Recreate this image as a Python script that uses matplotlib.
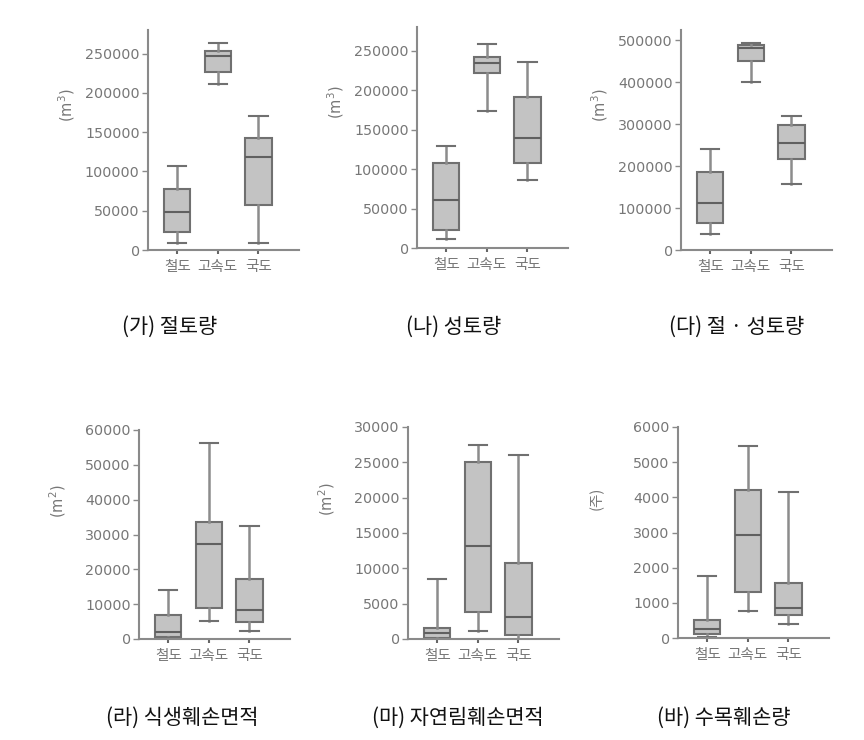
import matplotlib
matplotlib.use("Agg")
import matplotlib.pyplot as plt

plt.rcParams['font.family'] = ['Noto Sans CJK KR', 'DejaVu Sans']

CATS = ["철도", "고속도", "국도"]

# (가) 절토량
cut_min = [8500, 211000, 8500]
cut_q1 = [23000, 226000, 57000]
cut_med = [48000, 247000, 118000]
cut_q3 = [78000, 253000, 142000]
cut_max = [107000, 263000, 170000]

# (나) 성토량
fill_min = [11000, 174000, 86000]
fill_q1 = [23000, 222000, 108000]
fill_med = [61000, 234000, 139000]
fill_q3 = [108000, 242000, 191000]
fill_max = [129000, 259000, 236000]

# (다) 절·성토량
cf_min = [37000, 402000, 158000]
cf_q1 = [65000, 450000, 217000]
cf_med = [113000, 482000, 255000]
cf_q3 = [185000, 490000, 298000]
cf_max = [241000, 494000, 320000]

# (라) 식생훼손면적
veg_min = [200, 5100, 2400]
veg_q1 = [600, 8900, 5000]
veg_med = [1900, 27200, 8200]
veg_q3 = [6800, 33700, 17200]
veg_max = [14100, 56400, 32300]

# (마) 자연림훼손면적
for_min = [0, 1200, 0]
for_q1 = [150, 3800, 500]
for_med = [900, 13100, 3100]
for_q3 = [1500, 25000, 10800]
for_max = [8500, 27400, 26100]

# (바) 수목훼손량
tree_min = [30, 770, 410]
tree_q1 = [105, 1310, 650]
tree_med = [270, 2930, 840]
tree_q3 = [520, 4210, 1570]
tree_max = [1770, 5470, 4160]

W, H = 864, 740
fig = plt.figure(figsize=(W / 100, H / 100), dpi=100)

# panel: (left spine px, bottom px, top px, ylim top, ticks, unit, caption, caption x, caption y, data)
panels = [
    (148, 250, 30, 280000, range(0, 250001, 50000), "(m$^3$)", "(가) 절토량", 170, 327,
     (cut_min, cut_q1, cut_med, cut_q3, cut_max)),
    (417, 248, 27, 280000, range(0, 250001, 50000), "(m$^3$)", "(나) 성토량", 454, 327,
     (fill_min, fill_q1, fill_med, fill_q3, fill_max)),
    (681, 250, 30, 525000, range(0, 500001, 100000), "(m$^3$)", "(다) 절 · 성토량", 737, 327,
     (cf_min, cf_q1, cf_med, cf_q3, cf_max)),
    (139, 639, 430, 60000, range(0, 60001, 10000), "(m$^2$)", "(라) 식생훼손면적", 182, 718,
     (veg_min, veg_q1, veg_med, veg_q3, veg_max)),
    (408, 639, 427, 30000, range(0, 30001, 5000), "(m$^2$)", "(마) 자연림훼손면적", 458, 718,
     (for_min, for_q1, for_med, for_q3, for_max)),
    (678, 638, 427, 6000, range(0, 6001, 1000), "(주)", "(바) 수목훼손량", 724, 718,
     (tree_min, tree_q1, tree_med, tree_q3, tree_max)),
]

AX_W = 151
GRAY = "#8a8a8a"
TXT = "#777777"

for (x0, yb, yt, ytop, ticks, unit, cap, cx, cy, d) in panels:
    ax = fig.add_axes([x0 / W, 1 - yb / H, AX_W / W, (yb - yt) / H])
    mn, q1, med, q3, mx = d
    stats = [dict(whislo=mn[i], q1=q1[i], med=med[i], q3=q3[i], whishi=mx[i], fliers=[])
             for i in range(3)]
    ax.bxp(stats, positions=[1, 2, 3], widths=0.65, patch_artist=True, showfliers=False,
           capwidths=0.45,
           boxprops=dict(facecolor="#c3c3c3", edgecolor="#707070", linewidth=1.5),
           medianprops=dict(color="#606060", linewidth=1.5),
           whiskerprops=dict(color="#8c8c8c", linewidth=1.8),
           capprops=dict(color="#707070", linewidth=1.5))
    ax.set_xlim(0.28, 4.0)
    ax.set_ylim(0, ytop)
    ax.set_yticks(list(ticks))
    ax.set_yticklabels([str(t) for t in ticks], family="DejaVu Sans", fontsize=10.3, color=TXT)
    ax.set_xticks([1, 2, 3])
    ax.set_xticklabels(CATS, fontsize=10.5, color=TXT)
    ax.tick_params(axis="y", length=4, width=1, color=GRAY, pad=2)
    ax.tick_params(axis="x", length=3, width=1.5, color="#666666", pad=4)
    for s in ("top", "right"):
        ax.spines[s].set_visible(False)
    for s in ("left", "bottom"):
        ax.spines[s].set_color(GRAY)
        ax.spines[s].set_linewidth(1.5)
    ax.set_facecolor("none")
    ax.text(-0.54, 0.66, unit, transform=ax.transAxes, rotation=90, ha="center", va="center",
            fontsize=10.5, color=TXT, family="DejaVu Sans" if "m" in unit else None)
    fig.text(cx / W, 1 - cy / H, cap, ha="center", va="center", fontsize=15, color="#111111")

fig.savefig("out.png", dpi=100)
